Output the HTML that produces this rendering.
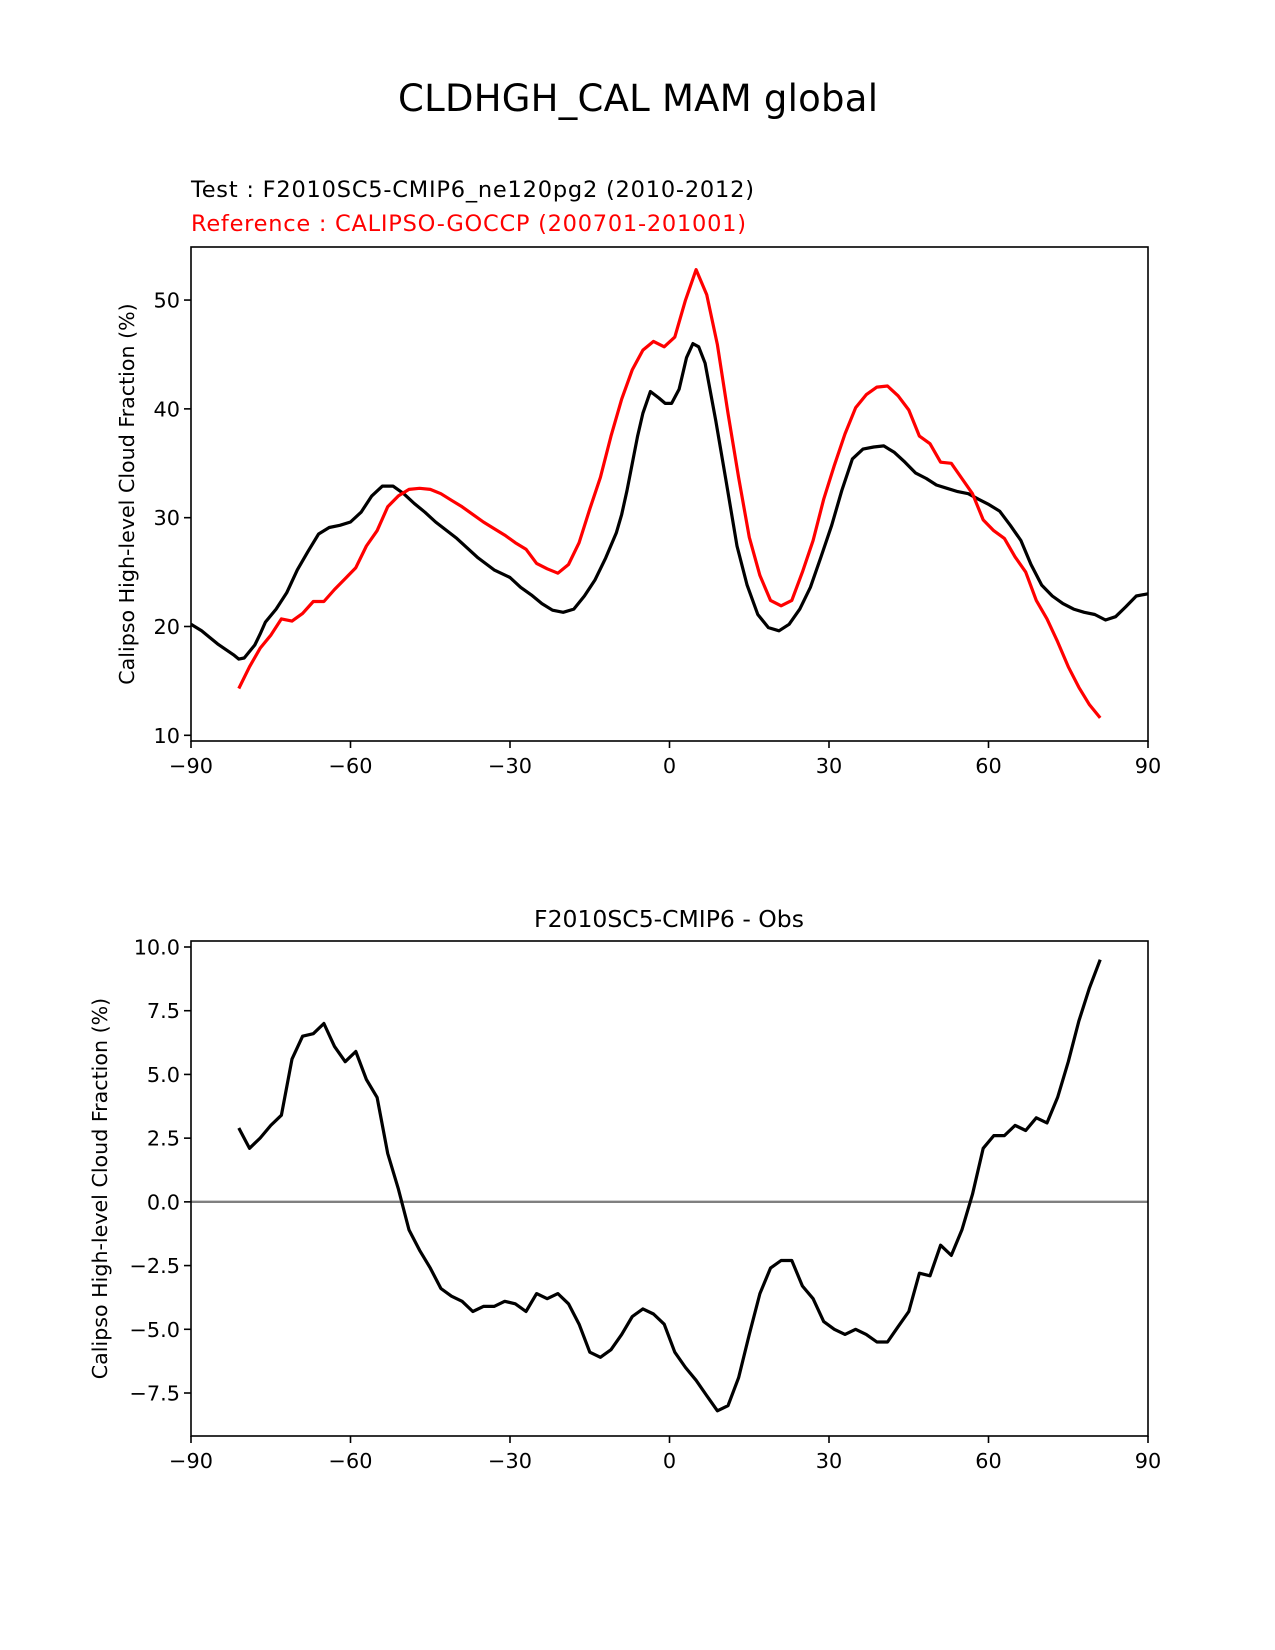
<!DOCTYPE html>
<html><head><meta charset="utf-8"><style>
html,body{margin:0;padding:0;background:#fff;}
svg{display:block;font-family:"DejaVu Sans","Liberation Sans",sans-serif;}
</style></head><body>
<svg id="fig" width="1275" height="1650" viewBox="0 0 1275 1650" xmlns="http://www.w3.org/2000/svg">
<rect width="1275" height="1650" fill="#fff"/>
<text x="638" y="111" font-size="37" text-anchor="middle" textLength="480">CLDHGH_CAL MAM global</text>
<text x="191" y="197" font-size="22.5" textLength="563">Test : F2010SC5-CMIP6_ne120pg2 (2010-2012)</text>
<text x="191" y="231" font-size="22.5" fill="#ff0000" textLength="555">Reference : CALIPSO-GOCCP (200701-201001)</text>
<text x="669" y="927" font-size="23.5" text-anchor="middle">F2010SC5-CMIP6 - Obs</text>
<g id="top"></g>
<g id="bot"></g>
</svg>
<script>
const testLat=[-90,-88,-85,-82,-81,-80,-78,-77,-76,-74,-72,-70,-68,-66,-64,-62,-60,-58,-56,-54,-52,-50,-48,-46,-44,-40,-36,-33,-30,-28,-26,-24,-22,-20,-18,-16,-14,-12,-10,-9,-8,-7,-6,-5,-3.6,-2,-0.8,0.4,1.8,3.2,4.4,5.5,6.7,8.7,10.7,12.7,14.6,16.6,18.6,20.6,22.5,24.5,26.5,28.5,30.5,32.4,34.4,36.4,38.4,40.3,42.3,44.3,46.3,48.3,50.2,52.2,54.2,56.2,58.1,60.1,62.1,64.1,66.1,68,70,72,74,76,78,80,82,83.9,85.8,87.8,90];
const testVal=[20.2,19.6,18.4,17.4,17.0,17.1,18.3,19.3,20.4,21.6,23.1,25.2,26.9,28.5,29.1,29.3,29.6,30.5,32.0,32.9,32.9,32.2,31.3,30.5,29.6,28.1,26.3,25.2,24.5,23.6,22.9,22.1,21.5,21.3,21.6,22.8,24.3,26.3,28.6,30.3,32.5,35.0,37.5,39.6,41.6,41.0,40.5,40.5,41.8,44.7,46.0,45.7,44.2,38.9,33.2,27.4,23.8,21.1,19.9,19.6,20.2,21.6,23.6,26.4,29.3,32.5,35.4,36.3,36.5,36.6,36.0,35.1,34.1,33.6,33.0,32.7,32.4,32.2,31.7,31.2,30.6,29.3,27.9,25.7,23.8,22.8,22.1,21.6,21.3,21.1,20.6,20.9,21.8,22.8,23.0];
const refLat=[-81,-79,-77,-75,-73,-71,-69,-67,-65,-63,-61,-59,-57,-55,-53,-51,-49,-47,-45,-43,-41,-39,-37,-35,-33,-31,-29,-27,-25,-23,-21,-19,-17,-15,-13,-11,-9,-7,-5,-3,-1,1,3,5,7,9,11,13,15,17,19,21,23,25,27,29,31,33,35,37,39,41,43,45,47,49,51,53,55,57,59,61,63,65,67,69,71,73,75,77,79,81];
const refVal=[14.3,16.3,18.0,19.2,20.7,20.5,21.2,22.3,22.3,23.4,24.4,25.4,27.4,28.8,31.0,32.0,32.6,32.7,32.6,32.2,31.6,31.0,30.3,29.6,29.0,28.4,27.7,27.1,25.8,25.3,24.9,25.7,27.7,30.8,33.7,37.5,40.9,43.6,45.4,46.2,45.7,46.6,50.0,52.8,50.5,45.9,39.6,33.7,28.2,24.7,22.4,21.9,22.4,25.0,27.9,31.7,34.8,37.7,40.1,41.3,42.0,42.1,41.2,39.9,37.5,36.8,35.1,35.0,33.6,32.2,29.8,28.8,28.1,26.4,25.0,22.4,20.7,18.6,16.3,14.4,12.8,11.6];
const diffLat=[-81,-79,-77,-75,-73,-71,-69,-67,-65,-63,-61,-59,-57,-55,-53,-51,-49,-47,-45,-43,-41,-39,-37,-35,-33,-31,-29,-27,-25,-23,-21,-19,-17,-15,-13,-11,-9,-7,-5,-3,-1,1,3,5,7,9,11,13,15,17,19,21,23,25,27,29,31,33,35,37,39,41,43,45,47,49,51,53,55,57,59,61,63,65,67,69,71,73,75,77,79,81];
const diffVal=[2.9,2.1,2.5,3.0,3.4,5.6,6.5,6.6,7.0,6.1,5.5,5.9,4.8,4.1,1.9,0.5,-1.1,-1.9,-2.6,-3.4,-3.7,-3.9,-4.3,-4.1,-4.1,-3.9,-4.0,-4.3,-3.6,-3.8,-3.6,-4.0,-4.8,-5.9,-6.1,-5.8,-5.2,-4.5,-4.2,-4.4,-4.8,-5.9,-6.5,-7.0,-7.6,-8.2,-8.0,-6.9,-5.2,-3.6,-2.6,-2.3,-2.3,-3.3,-3.8,-4.7,-5.0,-5.2,-5.0,-5.2,-5.5,-5.5,-4.9,-4.3,-2.8,-2.9,-1.7,-2.1,-1.1,0.3,2.1,2.6,2.6,3.0,2.8,3.3,3.1,4.1,5.5,7.1,8.4,9.5];
const xTicks=[-90,-60,-30,0,30,60,90];
const xTickLabels=["\u221290","\u221260","\u221230","0","30","60","90"];
const topYTicks=[10,20,30,40,50];
const topYTickLabels=["10","20","30","40","50"];
const botYTicks=[-7.5,-5,-2.5,0,2.5,5,7.5,10];
const botYTickLabels=["\u22127.5","\u22125.0","\u22122.5","0.0","2.5","5.0","7.5","10.0"];

const NS="http://www.w3.org/2000/svg";
function mk(parent,tag,attrs){const e=document.createElementNS(NS,tag);for(const k in attrs)e.setAttribute(k,attrs[k]);parent.appendChild(e);return e;}
const X0=191,X1=1148;
const xs=v=>X0+(v+90)/180*(X1-X0);

function axes(g,top,bottom,ymin,ymax,yt,ytl,ylabelX,prefix,lfs){
  const ys=v=>bottom-(v-ymin)/(ymax-ymin)*(bottom-top);
  xTicks.forEach((t,i)=>{
    const l=mk(g,'line',{x1:xs(t),x2:xs(t),y1:bottom,y2:bottom+7,stroke:'#000','stroke-width':1.6});
    
    
    const tx=mk(g,'text',{x:xs(t),y:bottom+32,'font-size':20.8,'text-anchor':'middle'});
    tx.textContent=xTickLabels[i];
    
    
  });
  yt.forEach((t,i)=>{
    const l=mk(g,'line',{x1:X0-7,x2:X0,y1:ys(t),y2:ys(t),stroke:'#000','stroke-width':1.6});
    
    
    const tx=mk(g,'text',{x:X0-11,y:ys(t)+7.5,'font-size':20.8,'text-anchor':'end'});
    tx.textContent=ytl[i];
    
    
  });
  const cy=(top+bottom)/2;
  const yl=mk(g,'text',{x:ylabelX,y:cy,'font-size':lfs,'text-anchor':'middle',transform:`rotate(-90 ${ylabelX} ${cy})`});
  yl.textContent='Calipso High-level Cloud Fraction (%)';
  
  
  return ys;
}
function line(g,lat,val,ys,color,name){
  const d=lat.map((a,i)=>(i?'L':'M')+xs(a).toFixed(1)+','+ys(val[i]).toFixed(1)).join(' ');
  const p=mk(g,'path',{d:d,fill:'none',stroke:color,'stroke-width':3.2,'stroke-linejoin':'round'});
  
  
}
function frame(g,top,bottom,prefix){
  const r=mk(g,'rect',{x:X0,y:top,width:X1-X0,height:bottom-top,fill:'none',stroke:'#000','stroke-width':1.6});
  
  
}
const gt=document.getElementById('top');
const T0=247,T1=741;
const ysT=axes(gt,T0,T1,10-5.7/10.89,10+(735.7-247)/10.89,topYTicks,topYTickLabels,134,'top',20.6);
line(gt,testLat,testVal,ysT,'#000','test-line');
line(gt,refLat,refVal,ysT,'#ff0000','reference-line');
frame(gt,T0,T1,'top');
const gb=document.getElementById('bot');
const B0=941,B1=1436,pu=25.49;
const ysB=axes(gb,B0,B1,-7.5-(B1-1393)/pu,10+(947-B0)/pu,botYTicks,botYTickLabels,107,'diff',20.6);
const z=mk(gb,'line',{x1:X0,x2:X1,y1:ysB(0),y2:ysB(0),stroke:'#808080','stroke-width':2.4});


line(gb,diffLat,diffVal,ysB,'#000','difference-line');
frame(gb,B0,B1,'diff');
</script>
</body></html>
